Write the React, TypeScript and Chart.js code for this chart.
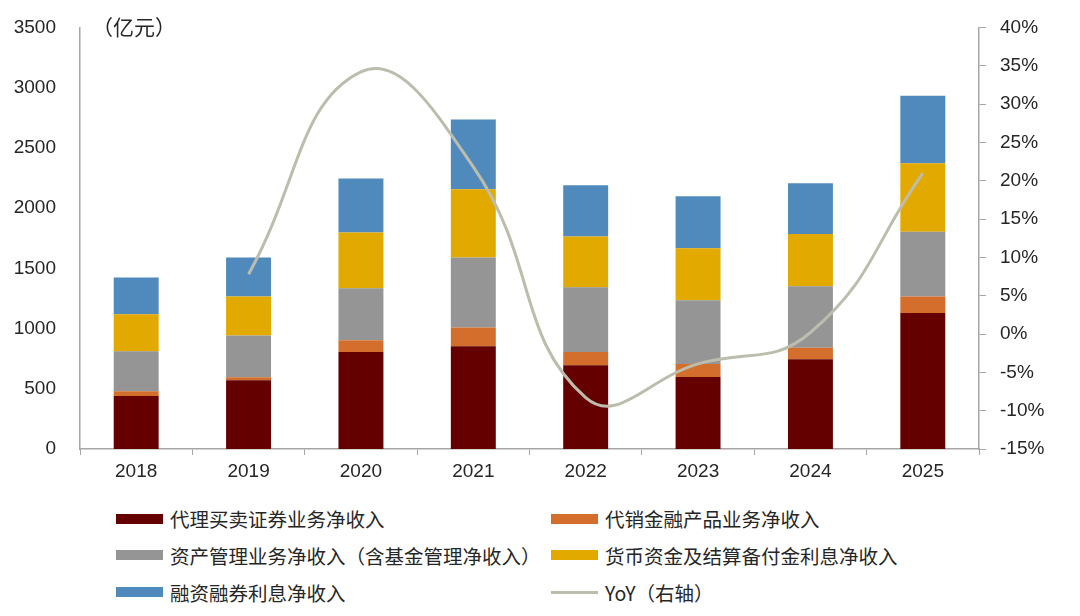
import { useEffect, useRef } from "react";
import { Chart, ChartConfiguration, registerables } from "chart.js";

Chart.register(...registerables);

const years = ["2018", "2019", "2020", "2021", "2022", "2023", "2024", "2025"];

// 亿元
const brokerage = [441, 571, 805, 852, 695, 598, 745, 1128];
const distribution = [39, 25, 97, 157, 110, 108, 96, 138];
const assetMgmt = [331, 347, 433, 580, 538, 529, 510, 538];
const depositInterest = [308, 323, 463, 568, 422, 431, 434, 568];
const marginInterest = [304, 323, 447, 579, 425, 433, 422, 560];

// YoY, %
const yoy = [null, 7.8, 34.2, 21.8, -8.3, -3.9, 0.2, 21.0];

const seriesNames = [
  "代理买卖证券业务净收入",
  "代销金融产品业务净收入",
  "资产管理业务净收入（含基金管理净收入）",
  "货币资金及结算备付金利息净收入",
  "融资融券利息净收入",
  "YoY（右轴）",
];
const seriesColors = ["#640000", "#D46E2C", "#959595", "#E2A900", "#508ABD", "#BDBDAD"];

const axisColor = "#A6A6A6";
const textColor = "#262626";
const cjkFont = '"Noto Sans CJK SC", "Liberation Sans", sans-serif';
const latinFont = '"Liberation Sans", Arial, sans-serif';

const unitLabel = {
  id: "unitLabel",
  afterDraw(chart: Chart) {
    const ctx = chart.ctx;
    ctx.save();
    ctx.font = `21px ${cjkFont}`;
    ctx.fillStyle = textColor;
    ctx.textBaseline = "middle";
    ctx.fillText("（亿元）", chart.chartArea.left + 12, chart.chartArea.top);
    ctx.restore();
  },
};

function StackedChart() {
  const canvasRef = useRef<HTMLCanvasElement>(null);
  const chartRef = useRef<Chart | null>(null);

  useEffect(() => {
    if (!canvasRef.current) return;
    if (chartRef.current) chartRef.current.destroy();

    const barData = [brokerage, distribution, assetMgmt, depositInterest, marginInterest];

    const config: ChartConfiguration = {
      type: "bar",
      data: {
        labels: years,
        datasets: [
          {
            type: "line",
            label: seriesNames[5],
            data: yoy,
            yAxisID: "y1",
            borderColor: seriesColors[5],
            borderWidth: 3,
            pointRadius: 0,
            tension: 0.45,
            order: 0,
          } as any,
          ...barData.map((values, i) => ({
            type: "bar" as const,
            label: seriesNames[i],
            data: values,
            backgroundColor: seriesColors[i],
            yAxisID: "y",
            barPercentage: 0.4,
            categoryPercentage: 1,
            order: 1,
          })),
        ],
      },
      options: {
        responsive: true,
        maintainAspectRatio: false,
        animation: false,
        layout: { padding: { top: 26, left: 0, right: 0, bottom: 0 } },
        plugins: {
          legend: { display: false },
          tooltip: { enabled: false },
        },
        scales: {
          x: {
            stacked: true,
            grid: {
              drawOnChartArea: false,
              drawTicks: true,
              tickLength: 6,
              color: axisColor,
              offset: true,
            },
            border: { color: axisColor, width: 1.5 },
            ticks: {
              color: textColor,
              font: { family: latinFont, size: 19 },
              padding: 5,
            },
            afterFit: (scale: any) => {
              scale.height = 31;
            },
          },
          y: {
            type: "linear",
            position: "left",
            stacked: true,
            min: 0,
            max: 3500,
            ticks: {
              stepSize: 500,
              color: textColor,
              font: { family: latinFont, size: 19 },
              padding: 16,
              callback: (v: any) => String(v),
            },
            grid: { display: false },
            border: { color: axisColor, width: 1.5 },
            afterFit: (scale: any) => {
              scale.width = 80;
            },
          },
          y1: {
            type: "linear",
            position: "right",
            min: -15,
            max: 40,
            ticks: {
              stepSize: 5,
              color: textColor,
              font: { family: latinFont, size: 19 },
              padding: 14,
              callback: (v: any) => `${v}%`,
            },
            grid: {
              drawOnChartArea: false,
              drawTicks: true,
              tickLength: 7,
              color: axisColor,
            },
            border: { color: axisColor, width: 1.5 },
            afterFit: (scale: any) => {
              scale.width = 101;
            },
          },
        },
      },
      plugins: [unitLabel],
    };

    chartRef.current = new Chart(canvasRef.current, config);

    return () => {
      if (chartRef.current) {
        chartRef.current.destroy();
        chartRef.current = null;
      }
    };
  }, []);

  return <canvas ref={canvasRef} />;
}

function Legend() {
  const columns = [116, 551];
  const rows = [518.5, 555, 592];
  return (
    <>
      {seriesNames.map((name, i) => {
        const left = columns[i % 2];
        const top = rows[Math.floor(i / 2)];
        const isLine = i === 5;
        return (
          <div
            key={name}
            style={{
              position: "absolute",
              left,
              top: top - 13,
              height: 26,
              display: "flex",
              alignItems: "center",
              whiteSpace: "nowrap",
              font: `19.5px ${cjkFont}`,
              color: textColor,
            }}
          >
            <span
              style={{
                display: "inline-block",
                width: 47,
                height: isLine ? 3 : 10,
                background: seriesColors[i],
                marginRight: 7,
              }}
            />
            {name}
          </div>
        );
      })}
    </>
  );
}

export default function App() {
  return (
    <div style={{ position: "absolute", left: 0, top: 0, width: 1080, height: 616, background: "#fff" }}>
      <div style={{ position: "absolute", left: 0, top: 0, width: 1080, height: 480 }}>
        <StackedChart />
      </div>
      <Legend />
    </div>
  );
}
